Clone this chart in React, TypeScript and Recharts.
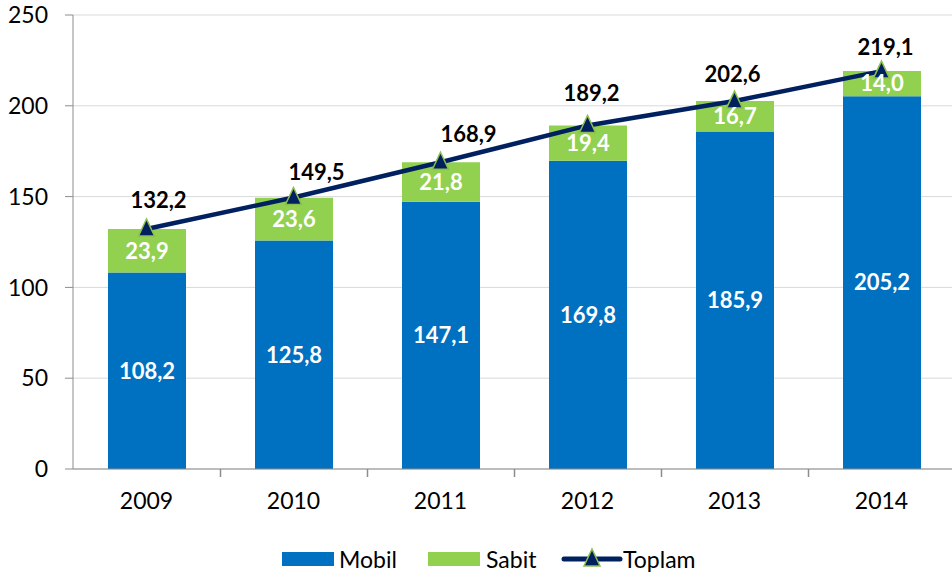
import React from 'react'
import {
  ComposedChart,
  Bar,
  Line,
  XAxis,
  YAxis,
  CartesianGrid,
  Legend,
  LabelList,
} from 'recharts'

// values
const years = ['2009', '2010', '2011', '2012', '2013', '2014']
const mobil = [108.2, 125.8, 147.1, 169.8, 185.9, 205.2]
const sabit = [23.9, 23.6, 21.8, 19.4, 16.7, 14.0]
const toplam = [132.2, 149.5, 168.9, 189.2, 202.6, 219.1]
const yTicks = [0, 50, 100, 150, 200, 250]

// hand placed total labels (nudges, px)
const TOTAL_LABEL_DX = [12, 23, 28, 4, -2, 4]
const TOTAL_LABEL_DY = [-29, -26, -29, -33, -28, -25]

const CHART_W = 956
const CHART_H = 579
const MARGIN = { top: 15, right: 1, left: 0, bottom: 20 }
const Y_AXIS_W = 73
const X_AXIS_H = 50
const LEGEND_H = 40
const PLOT_LEFT = MARGIN.left + Y_AXIS_W
const BAND = (CHART_W - MARGIN.left - MARGIN.right - Y_AXIS_W) / years.length
const AXIS_Y = CHART_H - MARGIN.bottom - LEGEND_H - X_AXIS_H

const BLUE = '#0070C0'
const GREEN = '#92D050'
const NAVY = '#002060'
const MARKER_EDGE = '#8DBF4E'
const AXIS = '#8C8C8C'
const GRID = '#D9D9D9'
const FONT = 'Lato, Carlito, "Open Sans", sans-serif'

const data = years.map((year, i) => ({
  year,
  mobil: mobil[i],
  sabit: sabit[i],
  toplam: toplam[i],
}))

const fmt = (v: any) => Number(v).toFixed(1).replace('.', ',')

// triangle marker for the total line
const Triangle = (props: any) => {
  const { cx, cy } = props
  if (cx == null || cy == null) return null
  return (
    <polygon
      points={`${cx},${cy - 10} ${cx + 8},${cy + 7} ${cx - 8},${cy + 7}`}
      fill={NAVY}
      stroke={MARKER_EDGE}
      strokeWidth={1.5}
    />
  )
}

const TotalLabel = (props: any) => {
  const { x, y, value, index } = props
  return (
    <text
      x={x + TOTAL_LABEL_DX[index]}
      y={y + TOTAL_LABEL_DY[index]}
      textAnchor="middle"
      dominantBaseline="central"
      fontFamily={FONT}
      fontSize={22}
      fontWeight="bold"
      fill="#000"
    >
      {fmt(value)}
    </text>
  )
}

// Excel style tick marks between categories, drawn over the chart
const BoundaryTicks = () => (
  <svg
    width={CHART_W}
    height={CHART_H}
    style={{ position: 'absolute', left: 0, top: 0, pointerEvents: 'none' }}
  >
    {years.map((y, i) => {
      const x = Math.round(PLOT_LEFT + BAND * (i + 1)) + 0.5
      return <line key={y} x1={x} y1={AXIS_Y} x2={x} y2={AXIS_Y + 8} stroke={AXIS} strokeWidth={1.5} />
    })}
  </svg>
)

const textStyle: React.CSSProperties = {
  position: 'absolute',
  top: 4,
  fontFamily: FONT,
  fontSize: 23,
  color: '#000',
  lineHeight: '32px',
}

const LegendContent = () => (
  <div style={{ position: 'relative', width: 952, height: LEGEND_H }}>
    <div style={{ position: 'absolute', left: 282, top: 13, width: 52, height: 14, background: BLUE }} />
    <span style={{ ...textStyle, left: 339 }}>Mobil</span>
    <div style={{ position: 'absolute', left: 428, top: 13, width: 52, height: 14, background: GREEN }} />
    <span style={{ ...textStyle, left: 486 }}>Sabit</span>
    <svg style={{ position: 'absolute', left: 560, top: 8 }} width={64} height={24}>
      <line x1={4} y1={12} x2={60} y2={12} stroke={NAVY} strokeWidth={5} strokeLinecap="round" />
      <polygon points="32,2 40,19 24,19" fill={NAVY} stroke={MARKER_EDGE} strokeWidth={1.5} />
    </svg>
    <span style={{ ...textStyle, left: 623 }}>Toplam</span>
  </div>
)

export default function App() {
  return (
    <div
      style={{
        position: 'fixed',
        left: 0,
        top: 0,
        width: 952,
        height: 579,
        overflow: 'hidden',
        background: '#fff',
      }}
    >
      <ComposedChart width={CHART_W} height={CHART_H} data={data} margin={MARGIN}>
        <CartesianGrid vertical={false} stroke={GRID} />
        <XAxis
          dataKey="year"
          height={X_AXIS_H}
          axisLine={{ stroke: AXIS }}
          tickLine={false}
          tickSize={0}
          tickMargin={24}
          tick={{ fontFamily: FONT, fontSize: 23, fill: '#000' }}
        />
        <YAxis
          width={Y_AXIS_W}
          domain={[0, 250]}
          ticks={yTicks}
          axisLine={{ stroke: AXIS }}
          tickLine={{ stroke: AXIS }}
          tickSize={8}
          tickMargin={17}
          tick={{ fontFamily: FONT, fontSize: 23, fill: '#000' }}
        />
        <Bar
          dataKey="mobil"
          name="Mobil"
          stackId="a"
          fill={BLUE}
          barSize={78}
          isAnimationActive={false}
        >
          <LabelList
            dataKey="mobil"
            position="center"
            formatter={fmt}
            fill="#fff"
            fontFamily={FONT}
            fontSize={22}
            fontWeight="bold"
          />
        </Bar>
        <Bar
          dataKey="sabit"
          name="Sabit"
          stackId="a"
          fill={GREEN}
          barSize={78}
          isAnimationActive={false}
        >
          <LabelList
            dataKey="sabit"
            position="center"
            formatter={fmt}
            fill="#fff"
            fontFamily={FONT}
            fontSize={22}
            fontWeight="bold"
          />
        </Bar>
        <Line
          dataKey="toplam"
          name="Toplam"
          stroke={NAVY}
          strokeWidth={4.5}
          dot={<Triangle />}
          activeDot={false}
          isAnimationActive={false}
        >
          <LabelList dataKey="toplam" content={<TotalLabel />} />
        </Line>
        <Legend
          verticalAlign="bottom"
          content={<LegendContent />}
          wrapperStyle={{ left: 0, top: 539, bottom: 'auto', width: 952, height: LEGEND_H }}
        />
      </ComposedChart>
      <BoundaryTicks />
    </div>
  )
}
